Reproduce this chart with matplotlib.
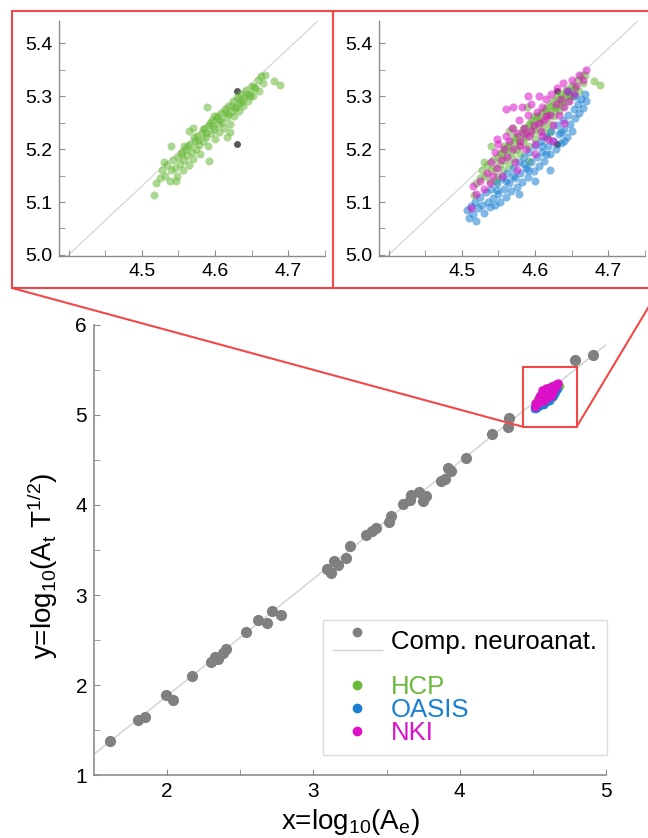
import matplotlib
matplotlib.use('Agg')
import matplotlib.pyplot as plt
from matplotlib.lines import Line2D
from matplotlib.patches import Rectangle, ConnectionPatch

plt.rcParams['font.family'] = ['Liberation Sans', 'DejaVu Sans']
plt.rcParams['mathtext.fontset'] = 'custom'
plt.rcParams['mathtext.rm'] = 'Liberation Sans'
plt.rcParams['mathtext.it'] = 'Liberation Sans:italic'
plt.rcParams['mathtext.bf'] = 'Liberation Sans:bold'

#---------------- data ----------------#
# comparative neuroanatomy (one point per species)
comp_x = [1.61, 1.80, 1.85, 1.99, 2.04, 2.17, 2.30, 2.33, 2.35, 2.38, 2.40,
          2.54, 2.62, 2.68, 2.72, 2.78, 3.09, 3.12, 3.14, 3.17, 3.22, 3.25,
          3.36, 3.40, 3.43, 3.52, 3.53, 3.61, 3.66, 3.67, 3.72, 3.75, 3.77,
          3.87, 3.90, 3.92, 3.94, 4.04, 4.22, 4.33, 4.34, 4.63, 4.63, 4.79, 4.91]
comp_y = [1.38, 1.61, 1.64, 1.89, 1.83, 2.10, 2.26, 2.31, 2.29, 2.36, 2.40,
          2.59, 2.72, 2.69, 2.82, 2.78, 3.29, 3.25, 3.38, 3.33, 3.41, 3.54,
          3.67, 3.71, 3.75, 3.81, 3.88, 4.01, 4.06, 4.11, 4.14, 4.04, 4.10,
          4.27, 4.29, 4.41, 4.38, 4.52, 4.79, 4.87, 4.97, 5.31, 5.21, 5.61, 5.67]

# fitted line end points
fit_x = [1.5, 5.0]
fit_y = [1.23, 5.78]

# human datasets
hcp_x = [4.517, 4.520, 4.525, 4.528, 4.532, 4.535, 4.538, 4.540, 4.542, 4.545,
         4.548, 4.550, 4.552, 4.555, 4.556, 4.558, 4.560, 4.562, 4.564, 4.566,
         4.568, 4.570, 4.572, 4.574, 4.576, 4.578, 4.580, 4.582, 4.584, 4.586,
         4.588, 4.590, 4.592, 4.594, 4.596, 4.598, 4.600, 4.602, 4.604, 4.606,
         4.608, 4.610, 4.612, 4.614, 4.616, 4.618, 4.620, 4.622, 4.624, 4.626,
         4.628, 4.630, 4.632, 4.634, 4.636, 4.638, 4.640, 4.642, 4.645, 4.648,
         4.650, 4.652, 4.655, 4.658, 4.660, 4.662, 4.665, 4.668, 4.680, 4.688,
         4.589, 4.616, 4.620, 4.592, 4.540, 4.570, 4.565, 4.530, 4.546, 4.598,
         4.553, 4.563, 4.577, 4.587, 4.597, 4.607, 4.617, 4.627, 4.637, 4.647,
         4.557, 4.571, 4.583, 4.593, 4.603, 4.613, 4.623, 4.633, 4.643, 4.653]
hcp_y = [5.113, 5.135, 5.145, 5.160, 5.150, 5.170, 5.140, 5.160, 5.180, 5.165,
         5.150, 5.185, 5.172, 5.195, 5.160, 5.180, 5.200, 5.188, 5.170, 5.210,
         5.195, 5.182, 5.215, 5.200, 5.225, 5.208, 5.190, 5.230, 5.215, 5.240,
         5.222, 5.205, 5.245, 5.230, 5.255, 5.238, 5.220, 5.262, 5.248, 5.232,
         5.268, 5.252, 5.240, 5.275, 5.260, 5.282, 5.248, 5.270, 5.290, 5.262,
         5.280, 5.298, 5.272, 5.288, 5.305, 5.282, 5.298, 5.312, 5.290, 5.305,
         5.320, 5.300, 5.315, 5.330, 5.310, 5.338, 5.325, 5.340, 5.328, 5.322,
         5.279, 5.223, 5.232, 5.177, 5.205, 5.240, 5.235, 5.175, 5.140, 5.262,
         5.190, 5.205, 5.218, 5.230, 5.243, 5.255, 5.266, 5.278, 5.290, 5.300,
         5.205, 5.222, 5.238, 5.250, 5.258, 5.270, 5.282, 5.293, 5.305, 5.318]

oasis_x = [4.507, 4.510, 4.512, 4.515, 4.518, 4.520, 4.522, 4.525, 4.528, 4.530,
           4.533, 4.536, 4.538, 4.540, 4.543, 4.545, 4.548, 4.550, 4.552, 4.555,
           4.557, 4.560, 4.562, 4.565, 4.567, 4.570, 4.572, 4.575, 4.578, 4.580,
           4.582, 4.585, 4.588, 4.590, 4.592, 4.595, 4.598, 4.600, 4.603, 4.605,
           4.608, 4.610, 4.612, 4.615, 4.618, 4.620, 4.622, 4.625, 4.628, 4.630,
           4.633, 4.636, 4.638, 4.640, 4.643, 4.645, 4.648, 4.650, 4.653, 4.655,
           4.658, 4.660, 4.663, 4.665, 4.668, 4.670, 4.645, 4.655, 4.620, 4.600,
           4.578, 4.560, 4.585, 4.610, 4.635, 4.590, 4.615, 4.640, 4.570, 4.548]
oasis_y = [5.085, 5.070, 5.092, 5.078, 5.100, 5.065, 5.088, 5.110, 5.095, 5.080,
           5.118, 5.100, 5.090, 5.125, 5.108, 5.095, 5.135, 5.115, 5.100, 5.145,
           5.125, 5.110, 5.155, 5.135, 5.120, 5.165, 5.145, 5.128, 5.175, 5.155,
           5.138, 5.185, 5.165, 5.148, 5.195, 5.175, 5.158, 5.205, 5.185, 5.168,
           5.215, 5.195, 5.178, 5.225, 5.205, 5.190, 5.235, 5.215, 5.200, 5.245,
           5.228, 5.212, 5.255, 5.238, 5.222, 5.265, 5.248, 5.235, 5.275, 5.258,
           5.285, 5.268, 5.295, 5.278, 5.305, 5.290, 5.310, 5.300, 5.160, 5.140,
           5.115, 5.140, 5.172, 5.205, 5.232, 5.160, 5.190, 5.215, 5.150, 5.122]

nki_x = [4.512, 4.515, 4.520, 4.525, 4.530, 4.535, 4.538, 4.540, 4.543, 4.545,
         4.548, 4.550, 4.553, 4.555, 4.558, 4.560, 4.562, 4.565, 4.568, 4.570,
         4.572, 4.575, 4.578, 4.580, 4.582, 4.585, 4.588, 4.590, 4.592, 4.595,
         4.598, 4.600, 4.602, 4.605, 4.608, 4.610, 4.612, 4.615, 4.618, 4.620,
         4.622, 4.625, 4.628, 4.630, 4.632, 4.635, 4.638, 4.640, 4.643, 4.646,
         4.650, 4.653, 4.656, 4.660, 4.665, 4.670, 4.560, 4.570, 4.590, 4.600,
         4.575, 4.548, 4.640, 4.625, 4.585, 4.595, 4.605, 4.615, 4.580, 4.610]
nki_y = [5.088, 5.130, 5.115, 5.140, 5.125, 5.155, 5.135, 5.175, 5.150, 5.195,
         5.165, 5.210, 5.180, 5.150, 5.200, 5.225, 5.185, 5.215, 5.240, 5.200,
         5.175, 5.230, 5.255, 5.215, 5.280, 5.240, 5.200, 5.265, 5.225, 5.285,
         5.245, 5.210, 5.270, 5.300, 5.235, 5.280, 5.255, 5.295, 5.220, 5.265,
         5.305, 5.245, 5.285, 5.315, 5.265, 5.295, 5.325, 5.280, 5.310, 5.290,
         5.330, 5.305, 5.320, 5.340, 5.330, 5.350, 5.275, 5.280, 5.300, 5.190,
         5.160, 5.220, 5.250, 5.215, 5.228, 5.235, 5.250, 5.262, 5.205, 5.225]

# points that sit inside the zoomed region (dark in the insets)
zoom_gray_x = [4.63, 4.63]
zoom_gray_y = [5.31, 5.21]

# zoom box drawn on the main plot
box_x = [4.43, 4.80]
box_y = [4.87, 5.53]

gray = '#808080'
line_col = '#d0d0d0'
spine_col = '#8c8c8c'
red = '#f24848'
hcp_col = '#6ab93a'
oasis_col = '#1a80d2'
nki_col = '#dc10c8'

W, H = 648, 838
fig = plt.figure(figsize=(W / 100, H / 100), dpi=100)


def style(a, size):
    for s in ['top', 'right']:
        a.spines[s].set_visible(False)
    for s in ['left', 'bottom']:
        a.spines[s].set_color(spine_col)
        a.spines[s].set_linewidth(1.2)
    a.tick_params(which='both', direction='in', length=4, color=spine_col,
                  labelsize=size, pad=5)


################ main plot ################
ax = fig.add_axes([94 / W, 1 - 775 / H, 512 / W, 450 / H])
ax.plot(fit_x, fit_y, color=line_col, lw=1, zorder=1)
ax.scatter(comp_x, comp_y, s=65, color=gray, lw=0, zorder=2)
ax.scatter(hcp_x, hcp_y, s=30, color=hcp_col, alpha=0.9, lw=0, zorder=3)
ax.scatter(oasis_x, oasis_y, s=30, color=oasis_col, alpha=0.9, lw=0, zorder=3)
ax.scatter(nki_x, nki_y, s=38, color=nki_col, alpha=0.95, lw=0, zorder=3)
ax.set_xlim(1.5, 5)
ax.set_ylim(1, 6)
ax.set_xticks([2, 3, 4, 5])
ax.set_xticks([2.5, 3.5, 4.5], minor=True)
ax.set_yticks([1, 2, 3, 4, 5, 6])
ax.set_yticks([1.5, 2.5, 3.5, 4.5, 5.5], minor=True)
style(ax, 15)
ax.set_xlabel(r'x=log$_{10}$(A$_\mathrm{e}$)', fontsize=20, labelpad=4)
ax.set_ylabel(r'y=log$_{10}$(A$_\mathrm{t}$ T$^{1/2}$)', fontsize=20)
ax.yaxis.set_label_coords(-0.066, 0.465)
ax.add_patch(Rectangle((box_x[0], box_y[0]), box_x[1] - box_x[0], box_y[1] - box_y[0],
                       fill=False, ec=red, lw=1.5, zorder=5, clip_on=False))


# legend: dot over a line for the comparative data
class CompHandler:
    def legend_artist(self, legend, orig_handle, fontsize, handlebox):
        x0, y0 = handlebox.xdescent, handlebox.ydescent
        w, h = handlebox.width, handlebox.height
        tr = handlebox.get_transform()
        handlebox.add_artist(Line2D([x0, x0 + w], [y0 + h / 2 - 7] * 2,
                                    color=line_col, lw=1, transform=tr))
        dot = Line2D([x0 + w / 2], [y0 + h / 2 + 6], marker='o', ms=6,
                     color=gray, ls='none', transform=tr)
        handlebox.add_artist(dot)
        return dot


comp_handle = Line2D([], [], color=gray)
blank = Line2D([], [], ls='none')
dots = [Line2D([], [], marker='o', ls='none', ms=6, color=c)
        for c in [hcp_col, oasis_col, nki_col]]
leg = ax.legend([comp_handle, blank] + dots,
                ['Comp. neuroanat.', ' ', 'HCP', 'OASIS', 'NKI'],
                handler_map={comp_handle: CompHandler()},
                loc='lower right', bbox_to_anchor=(1.002, 0.044),
                borderaxespad=0, fontsize=18.5, labelspacing=-0.05,
                handlelength=1.9, handletextpad=0.35, borderpad=0.4,
                fancybox=False, edgecolor='#dcdcdc', framealpha=1,
                labelcolor=['black', 'black', hcp_col, oasis_col, nki_col])
leg.get_frame().set_linewidth(1)


################ insets ################
def inset(left, groups):
    a = fig.add_axes([left / W, 1 - 256 / H, 266 / W, 235 / H])
    a.plot(fit_x, fit_y, color=line_col, lw=0.8, zorder=1)
    a.scatter(zoom_gray_x, zoom_gray_y, s=25, color='#5a5a5a', lw=0, zorder=2)
    for gx, gy, c in groups:
        a.scatter(gx, gy, s=34, color=c, alpha=0.55, lw=0, zorder=3)
    a.set_xlim(4.387, 4.75)
    a.set_ylim(4.998, 5.442)
    a.set_xticks([4.4, 4.5, 4.6, 4.7])
    a.set_xticklabels(['', '4.5', '4.6', '4.7'])
    a.set_xticks([4.45, 4.55, 4.65, 4.75], minor=True)
    a.set_yticks([5.0, 5.1, 5.2, 5.3, 5.4])
    a.set_yticklabels(['5.0', '5.1', '5.2', '5.3', '5.4'])
    a.set_yticks([5.05, 5.15, 5.25, 5.35], minor=True)
    style(a, 14)
    a.spines['left'].set_linewidth(1)
    a.spines['bottom'].set_linewidth(1)
    return a


ax_l = inset(59, [(hcp_x, hcp_y, hcp_col)])
ax_r = inset(379, [(hcp_x, hcp_y, hcp_col), (oasis_x, oasis_y, oasis_col),
                   (nki_x, nki_y, nki_col)])

# red frames around the insets and lines to the zoom box
fig.add_artist(Rectangle((12 / W, 1 - 288 / H), 321 / W, 277 / H, transform=fig.transFigure,
                         fill=False, ec=red, lw=1.5))
fig.add_artist(Rectangle((333 / W, 1 - 288 / H), 330 / W, 277 / H, transform=fig.transFigure,
                         fill=False, ec=red, lw=1.5))
fig.add_artist(ConnectionPatch(xyA=(12 / W, 1 - 288 / H), coordsA='figure fraction',
                               xyB=(box_x[0], box_y[0]), coordsB=ax.transData,
                               color=red, lw=1.5))
fig.add_artist(ConnectionPatch(xyA=(660 / W, 1 - 288 / H), coordsA='figure fraction',
                               xyB=(box_x[1], box_y[0]), coordsB=ax.transData,
                               color=red, lw=1.5))

plt.savefig('out.png', dpi=100)
plt.close()
